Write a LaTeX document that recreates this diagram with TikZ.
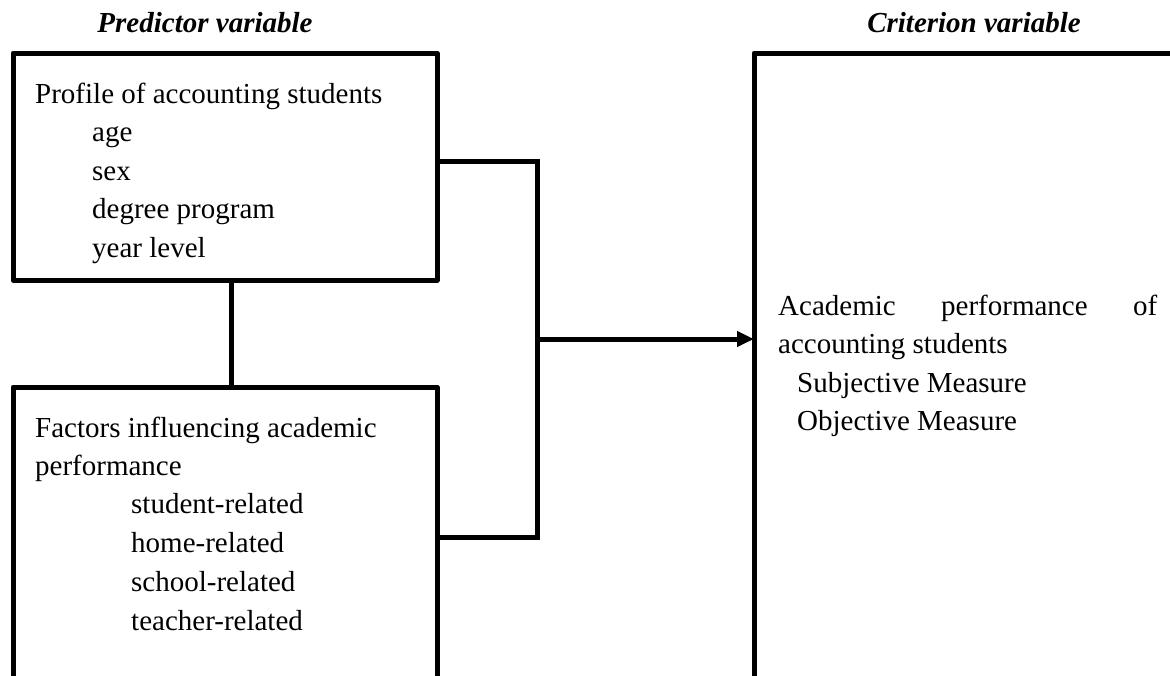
\documentclass[tikz,border=0pt]{standalone}
\usepackage{fontspec}
\setmainfont{Liberation Serif}
\usetikzlibrary{arrows.meta}
\begin{document}
\begin{tikzpicture}[x=1pt,y=-1pt,
  frame/.style={draw=black,line width=5pt,outer sep=0pt,inner sep=0pt,anchor=north west,line join=round},
  conn/.style={draw=black,line width=5pt,line join=miter},
  txt/.style={anchor=base west,inner sep=0pt,font=\fontsize{29}{39}\selectfont},
  head/.style={anchor=base,inner sep=0pt,font=\fontsize{29}{39}\selectfont\bfseries\itshape}]
\useasboundingbox (0,0) rectangle (1170,675);
\clip (0,0) rectangle (1170,675);
\fill[white] (0,0) rectangle (1170,675);
% headers
\node[head] (hpred) at (205,32) {Predictor variable};
\node[head] (hcrit) at (974,32) {Criterion variable};
% boxes
\node[frame,minimum width=424pt,minimum height=227pt] (top) at (13,53) {};
\node[frame,minimum width=424pt,minimum height=400pt] (bot) at (13,387) {};
\node[frame,minimum width=500pt,minimum height=700pt] (crit) at (754,53) {};
% top box text
\node[txt] (t0) at (35,103) {Profile of accounting students};
\node[txt] (t1) at (92,141) {age};
\node[txt] (t2) at (92,180) {sex};
\node[txt] (t3) at (92,218) {degree program};
\node[txt] (t4) at (92,257) {year level};
% bottom box text
\node[txt] (b0) at (35,437) {Factors influencing academic};
\node[txt] (b1) at (35,475) {performance};
\node[txt] (b2) at (131,513) {student-related};
\node[txt] (b3) at (131,552) {home-related};
\node[txt] (b4) at (131,591) {school-related};
\node[txt] (b5) at (131,630) {teacher-related};
% criterion text
\node[txt] (c0) at (778,315) {\makebox[379pt][s]{Academic performance of}};
\node[txt] (c1) at (778,353) {accounting students};
\node[txt] (c2) at (797,392) {Subjective Measure};
\node[txt] (c3) at (797,430) {Objective Measure};
% connectors
\coordinate (jt) at (537,161);
\coordinate (jb) at (537,537);
\coordinate (ja) at (537,339);
\coordinate (mid) at (231,0);
\draw[conn] (top.south -| mid) -- (bot.north -| mid);
\draw[conn] (top.east |- jt) -- (jt) -- (jb) -- (bot.east |- jb);
\draw[conn,-{Triangle[length=17pt,width=15pt]}] (ja) -- (crit.west |- ja);
\end{tikzpicture}
\end{document}
